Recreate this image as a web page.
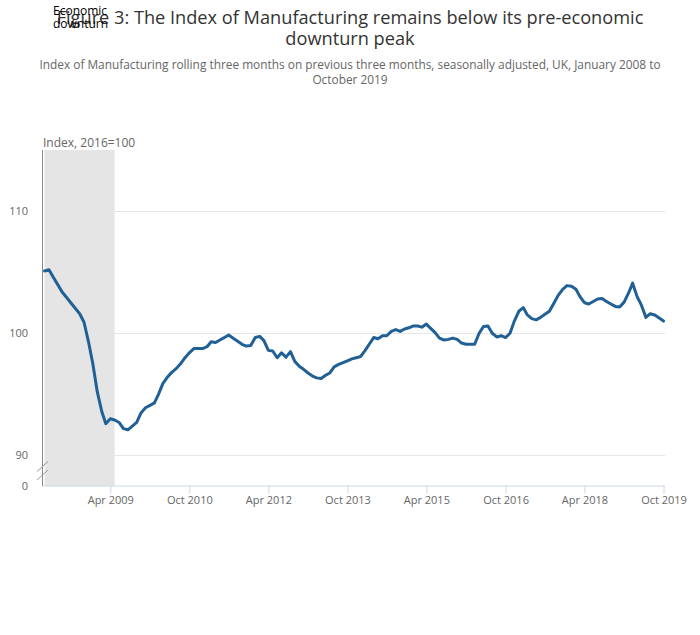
<!DOCTYPE html>
<html>
<head>
<meta charset="utf-8">
<script src="https://cdn.jsdelivr.net/npm/d3@7"></script>
<style>
  body { margin: 0; background: #fff; font-family: "Open Sans", sans-serif; }
  svg text { font-family: "Open Sans", sans-serif; }
</style>
</head>
<body>
<div class="canvas"></div>
<script>
const TITLE = [
  "Figure 3: The Index of Manufacturing remains below its pre-economic",
  "downturn peak",
];
const SUBTITLE = [
  "Index of Manufacturing rolling three months on previous three months, seasonally adjusted, UK, January 2008 to",
  "October 2019",
];
const Y_LABEL = "Index, 2016=100";
const BAND_LABEL = ["Economic", "downturn"];

// monthly values, January 2008 to October 2019
const START = [2008, 0];
const values = [
  105.1, 105.2, 104.6, 104.0, 103.4, 102.95, 102.5, 102.05, 101.6, 100.9, 99.3, 97.5,
  95.2, 93.6, 92.6, 93.0, 92.9, 92.7, 92.2, 92.1, 92.4, 92.7, 93.5, 93.9,
  94.1, 94.3, 95.0, 95.9, 96.4, 96.8, 97.1, 97.5, 98.0, 98.4, 98.75, 98.75,
  98.75, 98.9, 99.3, 99.25, 99.45, 99.65, 99.85, 99.6, 99.35, 99.1, 98.95, 99.0,
  99.65, 99.75, 99.4, 98.6, 98.55, 98.0, 98.4, 98.05, 98.5, 97.7, 97.3, 97.05,
  96.75, 96.5, 96.35, 96.3, 96.55, 96.75, 97.25, 97.45, 97.6, 97.75, 97.9, 98.0,
  98.1, 98.6, 99.1, 99.65, 99.55, 99.8, 99.8, 100.15, 100.3, 100.15, 100.35, 100.45,
  100.6, 100.6, 100.5, 100.75, 100.4, 100.05, 99.6, 99.45, 99.5, 99.6, 99.5, 99.2,
  99.1, 99.1, 99.1, 100.0, 100.55, 100.6, 100.0, 99.7, 99.8, 99.65, 100.0, 101.0,
  101.8, 102.1, 101.5, 101.2, 101.1, 101.3, 101.55, 101.8, 102.45, 103.1, 103.6, 103.9,
  103.85, 103.6, 103.0, 102.5, 102.4, 102.6, 102.8, 102.85, 102.6, 102.4, 102.2, 102.15,
  102.55, 103.3, 104.1, 103.0, 102.3, 101.3, 101.6, 101.5, 101.25, 101.0,
];

const tickLabels = ["Apr 2009", "Oct 2010", "Apr 2012", "Oct 2013", "Apr 2015", "Oct 2016", "Apr 2018", "Oct 2019"];
const yTicks = [90, 100, 110];
const yBreakValue = 87.5; // shown as 0 below the axis break
const yMax = 115;
const downturn = [new Date(2008, 0, 1), new Date(2009, 4, 1)];

const WIDTH = 700,
  HEIGHT = 635,
  PLOT = { left: 44.5, right: 663.5, top: 150, bottom: 486 },
  COLORS = {
    line: "#206095",
    band: "#e5e5e5",
    grid: "#e6e6e6",
    xAxis: "#ccd6eb",
    yAxis: "#888",
    text: "#666",
    title: "#333",
  };

const parseTick = d3.timeParse("%b %Y");
const dates = values.map((v, i) => new Date(START[0], START[1] + i, 1));
const series = values.map((v, i) => ({ date: dates[i], value: v }));

const svg = d3
  .select(".canvas")
  .append("svg")
  .attr("width", WIDTH)
  .attr("height", HEIGHT);

const x = d3
  .scaleTime()
  .domain([dates[0], dates[dates.length - 1]])
  .range([PLOT.left, PLOT.right]);

const y = d3
  .scaleLinear()
  .domain([yBreakValue, yMax])
  .range([PLOT.bottom, PLOT.top]);

// titles
svg
  .append("text")
  .attr("text-anchor", "middle")
  .attr("fill", COLORS.title)
  .style("font-size", "18.2px")
  .selectAll("tspan")
  .data(TITLE)
  .enter()
  .append("tspan")
  .attr("x", WIDTH / 2)
  .attr("y", (d, i) => 24 + i * 21)
  .text((d) => d);

svg
  .append("text")
  .attr("text-anchor", "middle")
  .attr("fill", COLORS.text)
  .style("font-size", "11.87px")
  .selectAll("tspan")
  .data(SUBTITLE)
  .enter()
  .append("tspan")
  .attr("x", WIDTH / 2)
  .attr("y", (d, i) => 69 + i * 15)
  .text((d) => d);

// downturn band
svg
  .append("rect")
  .attr("x", x(downturn[0]))
  .attr("y", PLOT.top)
  .attr("width", x(downturn[1]) - x(downturn[0]))
  .attr("height", PLOT.bottom - PLOT.top)
  .attr("fill", COLORS.band);

// gridlines
svg
  .append("g")
  .selectAll("line")
  .data(yTicks)
  .enter()
  .append("line")
  .attr("x1", PLOT.left)
  .attr("x2", PLOT.right + 1.5)
  .attr("y1", (d) => Math.round(y(d)) + 0.5)
  .attr("y2", (d) => Math.round(y(d)) + 0.5)
  .attr("stroke", COLORS.grid);

// x axis
const xAxis = d3
  .axisBottom(x)
  .tickValues(tickLabels.map(parseTick))
  .tickFormat(d3.timeFormat("%b %Y"))
  .tickSize(8)
  .tickSizeOuter(0);

const gx = svg
  .append("g")
  .attr("transform", `translate(0, ${PLOT.bottom - 0.5})`)
  .call(xAxis);
gx.select(".domain")
  .attr("d", `M42,0.5H${PLOT.right + 1.5}`)
  .attr("stroke", COLORS.xAxis);
gx.selectAll(".tick line").attr("stroke", COLORS.xAxis);
gx.selectAll(".tick text")
  .attr("fill", COLORS.text)
  .attr("y", 11)
  .style("font-size", "11px");

// y axis
svg
  .append("line")
  .attr("x1", 42.5)
  .attr("x2", 42.5)
  .attr("y1", PLOT.top)
  .attr("y2", PLOT.bottom)
  .attr("stroke", COLORS.yAxis);

svg
  .append("g")
  .selectAll("text")
  .data(yTicks.concat([yBreakValue]))
  .enter()
  .append("text")
  .attr("x", 28)
  .attr("y", (d) => y(d) + 4)
  .attr("text-anchor", "end")
  .attr("fill", COLORS.text)
  .style("font-size", "11px")
  .text((d) => (d === yBreakValue ? "0" : d));

// axis break marks
svg
  .append("g")
  .selectAll("line")
  .data([y(89.1), y(88.4)])
  .enter()
  .append("line")
  .attr("x1", 37)
  .attr("x2", 48)
  .attr("y1", (d) => d + 5)
  .attr("y2", (d) => d - 5)
  .attr("stroke", "#999");

svg
  .append("text")
  .attr("x", 43)
  .attr("y", 147)
  .attr("fill", COLORS.text)
  .style("font-size", "12px")
  .text(Y_LABEL);

// line
const line = d3
  .line()
  .x((d) => x(d.date))
  .y((d) => y(d.value));

svg
  .append("path")
  .datum(series)
  .attr("d", line)
  .attr("fill", "none")
  .attr("stroke", COLORS.line)
  .attr("stroke-width", 3)
  .attr("stroke-linejoin", "round")
  .attr("stroke-linecap", "round");

// band label (drawn at top as in the original)
svg
  .append("text")
  .attr("fill", "#000")
  .style("font-size", "12px")
  .selectAll("tspan")
  .data(BAND_LABEL)
  .enter()
  .append("tspan")
  .attr("x", 53)
  .attr("y", (d, i) => 15 + i * 13)
  .text((d) => d);
</script>
</body>
</html>
